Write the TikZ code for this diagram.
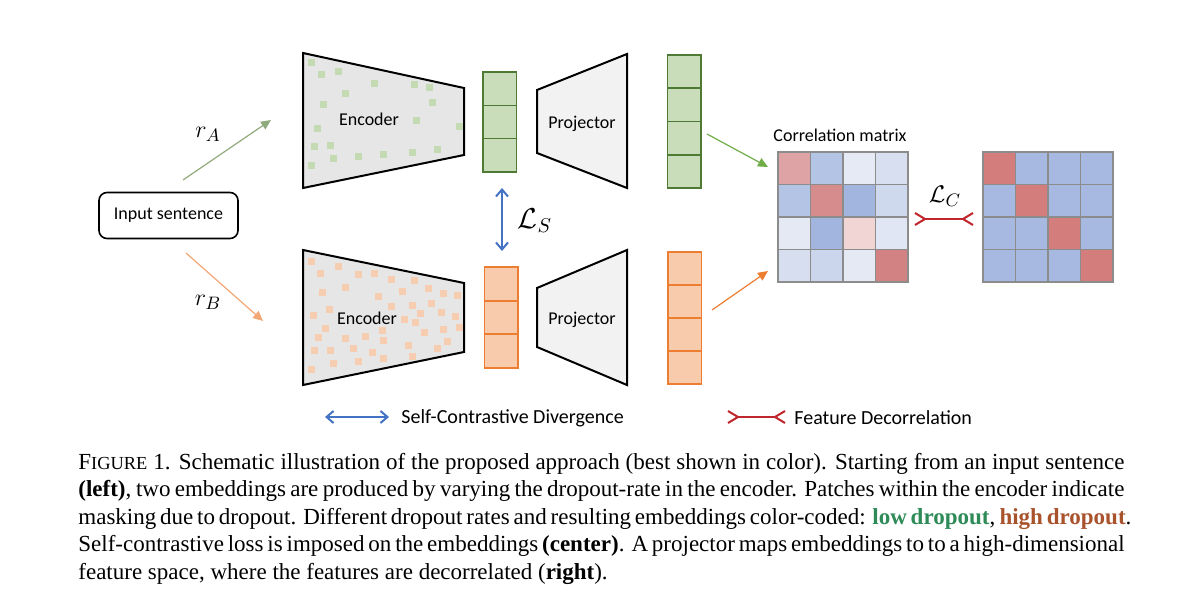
\documentclass[tikz,border=0pt]{standalone}
\usepackage{fontspec}
\setmainfont{Liberation Serif}
\newfontfamily\carl{Carlito}
\usetikzlibrary{arrows.meta}
\definecolor{encgray}{HTML}{E7E6E6}
\definecolor{projgray}{HTML}{F2F2F2}
\definecolor{patchG}{HTML}{C3DAB2}
\definecolor{patchO}{HTML}{F6CDB0}
\definecolor{embGL}{HTML}{C9DDBA}
\definecolor{embGD}{HTML}{4E7A34}
\definecolor{embOL}{HTML}{F8CBAD}
\definecolor{embOD}{HTML}{ED7D31}
\definecolor{arrGA}{HTML}{8FAB7B}
\definecolor{arrOA}{HTML}{F2A774}
\definecolor{arrGB}{HTML}{70AD47}
\definecolor{arrOB}{HTML}{ED7D31}
\definecolor{lsblue}{HTML}{4472C4}
\definecolor{lcred}{HTML}{C0272D}
\definecolor{mgrid}{HTML}{8C8C8C}
\definecolor{mAaa}{HTML}{DDA3A5}
\definecolor{mAab}{HTML}{B4C4E4}
\definecolor{mAac}{HTML}{E6EAF4}
\definecolor{mAad}{HTML}{D7DFF0}
\definecolor{mAba}{HTML}{B4C4E4}
\definecolor{mAbb}{HTML}{D68C8D}
\definecolor{mAbc}{HTML}{A2B5DE}
\definecolor{mAbd}{HTML}{CFD9EE}
\definecolor{mAca}{HTML}{E4E9F4}
\definecolor{mAcb}{HTML}{A2B5DE}
\definecolor{mAcc}{HTML}{F1D5D5}
\definecolor{mAcd}{HTML}{E0E6F3}
\definecolor{mAda}{HTML}{D6DEF0}
\definecolor{mAdb}{HTML}{CBD5EC}
\definecolor{mAdc}{HTML}{E4E9F4}
\definecolor{mAdd}{HTML}{D38283}
\definecolor{diagred}{HTML}{D37D7D}
\definecolor{offblue}{HTML}{A8B9E1}
\definecolor{lowgreen}{HTML}{2E8B57}
\definecolor{highbrown}{HTML}{A9532D}
\begin{document}
\begin{tikzpicture}[x=0.5pt,y=-0.5pt,
  enc/.style={draw=black, line width=1pt, fill=encgray, line join=miter},
  proj/.style={draw=black, line width=1pt, fill=projgray, line join=miter},
  lbl/.style={font=\carl\fontsize{9}{11}\selectfont, inner sep=0pt},
  leg/.style={font=\carl\fontsize{10}{12}\selectfont, inner sep=0pt, anchor=west},
  cellG/.style={draw=embGD, fill=embGL, line width=0.75pt, minimum width=16.75pt, minimum height=16.6pt, inner sep=0pt},
  cellO/.style={draw=embOD, fill=embOL, line width=0.75pt, minimum width=16.75pt, minimum height=16.6pt, inner sep=0pt},
  mcell/.style={draw=mgrid, line width=0.75pt, minimum size=16.25pt, inner sep=0pt},
  tipT/.style={-{Triangle[length=5pt,width=4.5pt]}, line width=0.6pt},
  lsarrow/.style={{Straight Barb[length=3.5pt,width=6pt]}-{Straight Barb[length=3.5pt,width=6pt]}, draw=lsblue, line width=1pt},
  lcarrow/.style={{Straight Barb[reversed,length=5pt,width=6pt]}-{Straight Barb[reversed,length=5pt,width=6pt]}, draw=lcred, line width=1pt},
  mathlbl/.style={inner sep=0pt, font=\fontsize{13}{13}\selectfont},
  capline/.style={anchor=base west, inner sep=0pt, font=\fontsize{11.5}{13.8}\selectfont}
]
\useasboundingbox (0,0) rectangle (1200,610);

% Input sentence
\node[draw, line width=0.8pt, rounded corners=4pt, minimum width=69.5pt, minimum height=23pt, lbl] (inp) at (168.5,215.5) {Input sentence};

% Encoders
\draw[enc] (303,53) -- (464,88) -- (464,155) -- (303,188) -- cycle;
\foreach \x/\y in {311/63,321/75,338/72,374/84,414/85,429/88,345/94,323/105,432/103,416/121,459/127,317/129,314/147,330/146,333/159,358/157,383/155,412/153,437/150,311/166}
  \fill[patchG] (\x-3.5,\y-3.5) rectangle ++(7,7);
\node[lbl] (encA) at (369,119) {Encoder};

\draw[enc] (303,250) -- (464,283) -- (464,352) -- (303,385) -- cycle;
\foreach \x/\y in {311/261,320/273,338/266,358/274,374/273,391/279,414/280,322/292,345/287,378/296,402/291,428/288,443/293,457/295,391/306,412/305,431/303,329/309,313/315,420/313,441/312,455/316,404/319,415/322,325/328,382/330,424/332,443/329,459/327,318/337,345/338,365/336,383/340,447/341,408/345,314/350,330/350,353/348,372/352,437/348,333/363,358/361,383/358,412/356,311/369}
  \fill[patchO] (\x-3.5,\y-3.5) rectangle ++(7,7);
\node[lbl] (encB) at (367,318) {Encoder};

% Embeddings
\node[cellG] (eA1) at (499.5,88.7) {};
\node[cellG] (eA2) at (499.5,122) {};
\node[cellG] (eA3) at (499.5,155.3) {};
\node[cellO] (eB1) at (501,283.8) {};
\node[cellO] (eB2) at (501,317.5) {};
\node[cellO] (eB3) at (501,351.2) {};

% Projectors
\draw[proj] (537,90) -- (627,54) -- (627,188) -- (537,153) -- cycle;
\node[lbl] (projA) at (582,124) {Projector};
\draw[proj] (537,288) -- (627,250) -- (627,385) -- (537,347) -- cycle;
\node[lbl] (projB) at (582,320) {Projector};

% Projected vectors
\node[cellG] (pA1) at (684,71.6) {};
\node[cellG] (pA2) at (684,104.9) {};
\node[cellG] (pA3) at (684,138.1) {};
\node[cellG] (pA4) at (684,171.4) {};
\node[cellO] (pB1) at (684.5,268.5) {};
\node[cellO] (pB2) at (684.5,301.5) {};
\node[cellO] (pB3) at (684.5,334.5) {};
\node[cellO] (pB4) at (684.5,367.5) {};

% Correlation matrix
\node[lbl] (cmlbl) at (840,135) {Correlation matrix};
\foreach \i/\r in {1/a,2/b,3/c,4/d}
  \foreach \j/\c in {1/a,2/b,3/c,4/d}
    \node[mcell, fill=mA\r\c] (mA-\i-\j) at ({778+32.5*(\j-0.5)},{152+32.5*(\i-0.5)}) {};
\foreach \i in {1,...,4}
  \foreach \j in {1,...,4}{
    \ifnum\i=\j \def\mc{diagred}\else\def\mc{offblue}\fi
    \node[mcell, fill=\mc] (mB-\i-\j) at ({983+32.5*(\j-0.5)},{152+32.5*(\i-0.5)}) {};
  }

% Arrows input -> encoders
\coordinate (rAs) at (183,180);
\coordinate (rAe) at (271,120);
\coordinate (rBs) at (186,253);
\coordinate (rBe) at (263,321);
\draw[tipT, draw=arrGA] (rAs) -- (rAe);
\draw[tipT, draw=arrOA] (rBs) -- (rBe);
\node[mathlbl] (rA) at (208,134) {$r_A$};
\node[mathlbl] (rB) at (208,302) {$r_B$};

% Self-contrastive arrow
\coordinate (lsTop) at (502,188);
\coordinate (lsBot) at (502,251);
\draw[lsarrow] (lsTop) -- (lsBot);
\node[mathlbl, font=\fontsize{14}{14}\selectfont] (LS) at (535,221) {$\mathcal{L}_S$};

% Arrows to correlation matrix
\coordinate (gS) at (707,134);
\coordinate (gE) at (768,167);
\coordinate (oS) at (712,310);
\coordinate (oE) at (768,271);
\draw[tipT, draw=arrGB] (gS) -- (gE);
\draw[tipT, draw=arrOB] (oS) -- (oE);

% Decorrelation connector
\coordinate (lcL) at (914,219);
\coordinate (lcR) at (974,219);
\draw[lcarrow] (lcL) -- (lcR);
\node[mathlbl, font=\fontsize{13}{13}\selectfont] (LC) at (945,196) {$\mathcal{L}_C$};

% Legend
\coordinate (lgB1) at (325,417);
\coordinate (lgB2) at (389,417);
\draw[lsarrow] (lgB1) -- (lgB2);
\node[leg] (lgBt) at (401,418) {Self-Contrastive Divergence};
\coordinate (lgR1) at (727,417);
\coordinate (lgR2) at (786,417);
\draw[lcarrow] (lgR1) -- (lgR2);
\node[leg] (lgRt) at (794,418) {Feature Decorrelation};

% Caption
\node[capline] (cap1) at (78,469) {\makebox[523pt][s]{F{\fontsize{9.2}{11}\selectfont IGURE} 1. Schematic illustration of the proposed approach (best shown in color). Starting from an input sentence}};
\node[capline] (cap2) at (78,496.6) {\makebox[523pt][s]{\textbf{(left)}, two embeddings are produced by varying the dropout-rate in the encoder. Patches within the encoder indicate}};
\node[capline] (cap3) at (78,524.2) {\makebox[523pt][s]{masking due to dropout. Different dropout rates and resulting embeddings color-coded: \textcolor{lowgreen}{\textbf{low dropout}}, \textcolor{highbrown}{\textbf{high dropout}}.}};
\node[capline] (cap4) at (78,551.8) {\makebox[523pt][s]{Self-contrastive loss is imposed on the embeddings \textbf{(center)}. A projector maps embeddings to to a high-dimensional}};
\node[capline] (cap5) at (78,579.4) {feature space, where the features are decorrelated (\textbf{right}).};
\end{tikzpicture}
\end{document}
